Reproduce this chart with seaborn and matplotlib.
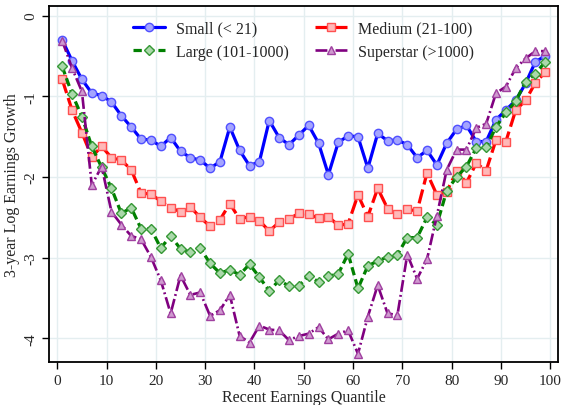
import numpy as np
import pandas as pd
import seaborn as sns
import matplotlib.pyplot as plt

quantile = [1, 3, 5, 7, 9, 11, 13, 15, 17, 19, 21, 23, 25, 27, 29, 31, 33, 35, 37, 39,
            41, 43, 45, 47, 49, 51, 53, 55, 57, 59, 61, 63, 65, 67, 69, 71, 73, 75, 77, 79,
            81, 83, 85, 87, 89, 91, 93, 95, 97, 99]

small = [-0.30, -0.56, -0.79, -0.96, -0.99, -1.07, -1.24, -1.38, -1.53, -1.54,
         -1.62, -1.51, -1.68, -1.76, -1.79, -1.89, -1.81, -1.38, -1.67, -1.86,
         -1.81, -1.30, -1.51, -1.60, -1.48, -1.36, -1.58, -1.97, -1.57, -1.49,
         -1.50, -1.89, -1.46, -1.55, -1.54, -1.60, -1.76, -1.67, -1.85, -1.58,
         -1.41, -1.36, -1.56, -1.56, -1.29, -1.17, -1.05, -0.84, -0.57, -0.50]

medium = [-0.79, -1.17, -1.45, -1.75, -1.62, -1.76, -1.79, -1.91, -2.20, -2.21,
          -2.30, -2.38, -2.43, -2.37, -2.50, -2.61, -2.53, -2.33, -2.52, -2.49,
          -2.54, -2.67, -2.56, -2.52, -2.45, -2.46, -2.51, -2.49, -2.60, -2.58,
          -2.22, -2.49, -2.14, -2.39, -2.46, -2.40, -2.42, -1.95, -2.22, -2.18,
          -1.93, -2.07, -1.83, -1.92, -1.54, -1.56, -1.17, -1.05, -0.83, -0.70]

large = [-0.63, -0.97, -1.25, -1.62, -1.88, -2.14, -2.45, -2.38, -2.64, -2.64,
         -2.88, -2.73, -2.89, -2.93, -2.88, -3.07, -3.19, -3.15, -3.21, -3.08,
         -3.24, -3.41, -3.28, -3.35, -3.35, -3.22, -3.30, -3.23, -3.20, -2.95,
         -3.38, -3.10, -3.04, -2.99, -2.96, -2.75, -2.75, -2.50, -2.59, -2.17,
         -2.00, -1.87, -1.64, -1.63, -1.38, -1.20, -1.06, -0.82, -0.72, -0.57]

superstar = [-0.31, -0.65, -0.94, -2.10, -1.87, -2.43, -2.59, -2.73, -2.77, -2.99,
             -3.28, -3.69, -3.22, -3.46, -3.43, -3.72, -3.65, -3.46, -3.97, -4.05,
             -3.84, -3.89, -3.90, -4.02, -3.97, -3.94, -3.86, -4.01, -3.94, -3.90,
             -4.19, -3.73, -3.34, -3.69, -3.71, -2.96, -3.26, -3.02, -2.48, -1.91,
             -1.66, -1.66, -1.39, -1.34, -0.96, -0.88, -0.65, -0.53, -0.44, -0.44]

labels = ["Small (< 21)", "Medium (21-100)", "Large (101-1000)", "Superstar (>1000)"]

sns.set_style("white")
plt.rcParams["font.family"] = ["Liberation Serif", "DejaVu Serif"]

fig = plt.figure(figsize=(5.63, 4.06), dpi=100)
ax = fig.add_axes([0.087, 0.105, 0.904, 0.8785])

styles = [
    dict(color="#0000ff", marker="o", linestyle="-", markerfacecolor="#a4a4ff",
         markeredgecolor="#5050ff", markersize=6, linewidth=2.3),
    dict(color="#ff0000", marker="s", linestyle=(0, (4.5, 1.6)), markerfacecolor="#ffb8b8",
         markeredgecolor="#ff5050", markersize=6, linewidth=2.3),
    dict(color="#008000", marker="D", linestyle=(0, (2.6, 1.3)), markerfacecolor="#aad8aa",
         markeredgecolor="#359835", markersize=5.5, linewidth=2.3),
    dict(color="#800080", marker="^", linestyle=(0, (4.5, 1.2, 0.7, 1.2)), markerfacecolor="#cf9acf",
         markeredgecolor="#a040a0", markersize=6.2, linewidth=1.9),
]

for vals, lab, st in zip([small, medium, large, superstar], labels, styles):
    df = pd.DataFrame({"q": quantile, "g": vals})
    sns.lineplot(data=df, x="q", y="g", ax=ax, label=lab, markeredgewidth=1.0, **st)

ax.set_xlim(-1.68, 101.56)
ax.set_ylim(-4.296, 0.123)
ax.set_xticks(np.arange(0, 101, 10))
ax.set_yticks([0, -1, -2, -3, -4])
ax.set_yticklabels(["0", "-1", "-2", "-3", "-4"], rotation=90, va="center")
ax.tick_params(axis="both", direction="out", length=5, width=1, labelsize=11,
               color="black", bottom=True, left=True)
ax.grid(True, color="#e4eef0", linewidth=1)
ax.set_axisbelow(True)
for s in ax.spines.values():
    s.set_color("black")
    s.set_linewidth(1.3)

ax.set_xlabel("Recent Earnings Quantile", fontsize=11.5, labelpad=1)
ax.set_ylabel("3-year Log Earnings Growth", fontsize=11.5, labelpad=3)

h, l = ax.get_legend_handles_labels()
order = [0, 2, 1, 3]
ax.legend([h[i] for i in order], [l[i] for i in order], ncol=2, loc="upper center",
          bbox_to_anchor=(0.5, 0.998), frameon=False, fontsize=11.5, handlelength=2.0,
          columnspacing=1.6, handletextpad=0.7, labelspacing=0.45)

fig.savefig("out.png", dpi=100)
